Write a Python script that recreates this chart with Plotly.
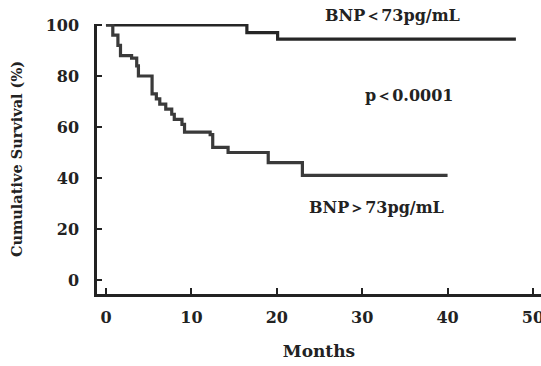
import plotly.graph_objects as go

# Kaplan-Meier step data (months, cumulative survival %)
low_months = [0, 16.5, 20.1, 48]
low_surv = [100, 97, 94.5, 94.5]

high_months = [0, 0.8, 1.4, 1.7, 3.0, 3.6, 3.8, 5.4, 5.9, 6.3, 7.0, 7.7, 8.0, 8.9, 9.2,
               12.2, 12.5, 14.3, 19.0, 23.0, 40.0]
high_surv = [100, 96, 92, 88, 87, 84, 80, 73, 71, 69, 67, 65, 63, 61, 58,
             57, 52, 50, 46, 41, 41]

x_ticks = [0, 10, 20, 30, 40, 50]
y_ticks = [0, 20, 40, 60, 80, 100]

SERIF = "DejaVu Serif"
TXT = "#222222"

fig = go.Figure()
fig.add_trace(go.Scatter(x=low_months, y=low_surv, mode="lines", line_shape="hv",
                         line=dict(color="#262626", width=3.2), cliponaxis=False,
                         hoverinfo="skip"))
fig.add_trace(go.Scatter(x=high_months, y=high_surv, mode="lines", line_shape="hv",
                         line=dict(color="#3a3a3a", width=3.2), cliponaxis=False,
                         hoverinfo="skip"))

ann_font = dict(family=SERIF, size=16, color=TXT, weight="bold")
fig.add_annotation(x=33.5, xref="x", y=1.033, yref="paper", yanchor="middle",
                   text="BNP＜73pg/mL", showarrow=False, font=ann_font)
fig.add_annotation(x=35.5, y=72.5, text="p＜0.0001", showarrow=False, font=ann_font)
fig.add_annotation(x=31.7, y=28.5, text="BNP＞73pg/mL", showarrow=False, font=ann_font)

fig.update_layout(
    width=541, height=366,
    margin=dict(l=97, r=0, t=24, b=72, autoexpand=False),
    paper_bgcolor="white", plot_bgcolor="white",
    showlegend=False,
    font=dict(family=SERIF, color=TXT),
    xaxis=dict(range=[-1.05, 50.94], tickvals=x_ticks, ticks="inside", ticklen=6,
               tickwidth=2, tickcolor="#222", showline=True, linecolor="#222",
               linewidth=2.5, showgrid=False, zeroline=False, ticklabelstandoff=7,
               ticklabeloverflow="allow", automargin=False,
               tickfont=dict(family=SERIF, size=16, color=TXT, weight="bold"),
               title=dict(text="Months", standoff=20,
                          font=dict(family=SERIF, size=17, color=TXT, weight="bold"))),
    yaxis=dict(range=[-5.5, 100.4], tickvals=y_ticks, ticks="inside", ticklen=5,
               tickwidth=2, tickcolor="#222", showline=True, linecolor="#222",
               linewidth=2.5, showgrid=False, zeroline=False, ticklabelstandoff=12,
               automargin=False,
               tickfont=dict(family=SERIF, size=16, color=TXT, weight="bold"),
               title=dict(text="Cumulative Survival (%)", standoff=20,
                          font=dict(family=SERIF, size=14.5, color=TXT, weight="bold"))),
)

fig.write_html("out.html")
